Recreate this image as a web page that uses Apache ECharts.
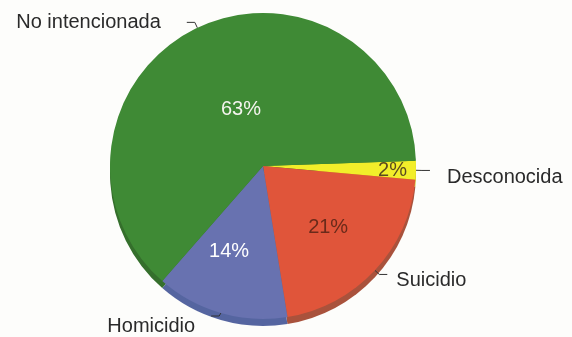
<!DOCTYPE html>
<html><head><meta charset="utf-8">
<script src="https://cdn.jsdelivr.net/npm/echarts@6/dist/echarts.min.js"></script>
<style>html,body{margin:0;padding:0;background:#fdfdfb}#c{width:572px;height:337px}</style>
</head><body><div id="c"></div>
<script>
const categories = ['Desconocida', 'Suicidio', 'Homicidio', 'No intencionada'];
const values = [2, 21, 14, 63];

// styling kept separate from data
const colors = ['#f2ee2a', '#e0553a', '#6872b0', '#3f8a35'];
const sideColors = ['#c8c420', '#a9523c', '#5565a0', '#356f2c'];
const pctColors = ['#5a4a20', '#6a2a1a', '#ffffff', '#f4f4ee'];
const pctOffsets = [[50, 2], [7, 7], [-12, 9], [12, 15]];
const nameOffsets = [[13, 7], [5, 6], [-12, 10], [-22, 0]];

const chart = echarts.init(document.getElementById('c'));
const font = 'Liberation Sans, Arial, sans-serif';
const base = {
  type: 'pie', startAngle: 2, clockwise: true, radius: 153,
  animation: false, silent: true
};
chart.setOption({
  backgroundColor: '#fdfdfb',
  series: [
    Object.assign({}, base, {
      center: [263, 173], z: 1,
      label: {show: false}, labelLine: {show: false},
      data: categories.map((c, i) => ({name: c, value: values[i], itemStyle: {color: sideColors[i]}}))
    }),
    Object.assign({}, base, {
      center: [263, 166], z: 2,
      itemStyle: {borderWidth: 0},
      label: {
        show: true, position: 'outside', fontFamily: font, fontSize: 20, color: '#2a2a2a',
        formatter: '{b}', distanceToLabelLine: 4
      },
      labelLine: {show: true, length: 6, length2: 8, lineStyle: {color: '#333', width: 1}},
      data: categories.map((c, i) => ({name: c, value: values[i], itemStyle: {color: colors[i]}, label: {offset: nameOffsets[i]}}))
    }),
    Object.assign({}, base, {
      center: [263, 166], z: 3,
      itemStyle: {color: 'rgba(0,0,0,0)'},
      label: {
        show: true, position: 'inside', fontFamily: font, fontSize: 20,
        formatter: '{c}%'
      },
      labelLine: {show: false},
      data: categories.map((c, i) => ({name: c, value: values[i], label: {color: pctColors[i], offset: pctOffsets[i]}}))
    })
  ]
});
</script></body></html>
